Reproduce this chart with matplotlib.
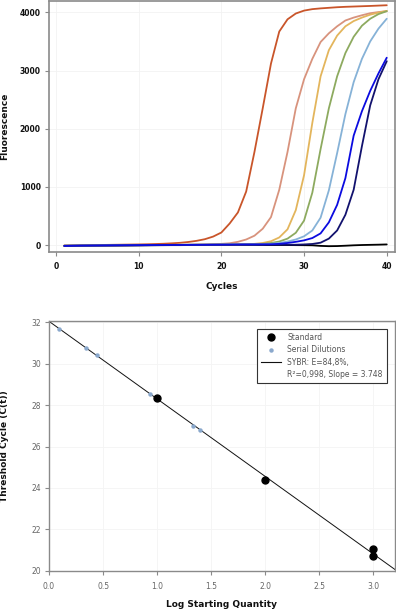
import matplotlib
matplotlib.use("Agg")
import matplotlib.pyplot as plt
from matplotlib.lines import Line2D
import numpy as np

# ---------------- data: amplification curves ----------------
cycles = list(range(1, 41))

orange = [-8, -6, -4, -2, 0, 2, 4, 6, 8, 10, 13, 17, 22, 29, 38, 52, 72, 100, 145, 215,
          370, 560, 920, 1600, 2350, 3120, 3670, 3880, 3980, 4030, 4055, 4068, 4078, 4088, 4095, 4100, 4105, 4110, 4116, 4122]
salmon = [-12, -10, -9, -8, -7, -6, -5, -4, -3, -2, -1, 0, 1, 2, 3, 5, 7, 10, 14, 20,
          30, 55, 95, 160, 280, 480, 950, 1600, 2350, 2850, 3200, 3490, 3640, 3760, 3860, 3910, 3950, 3985, 4005, 4020]
yellow = [-12, -10, -9, -8, -7, -6, -5, -4, -3, -2, -1, 0, 1, 2, 3, 4, 5, 6, 7, 8,
          10, 12, 15, 20, 35, 65, 130, 270, 600, 1200, 2100, 2900, 3350, 3600, 3760, 3850, 3910, 3960, 3995, 4025]
green = [-12, -10, -9, -8, -7, -6, -5, -4, -3, -2, -1, 0, 1, 2, 3, 4, 5, 6, 7, 8,
         9, 10, 11, 12, 20, 35, 60, 110, 210, 420, 900, 1650, 2350, 2900, 3300, 3580, 3770, 3890, 3970, 4020]
lightblue = [-12, -10, -9, -8, -7, -6, -5, -4, -3, -2, -1, 0, 1, 2, 3, 4, 5, 6, 7, 8,
             9, 10, 11, 11, 12, 20, 35, 60, 95, 150, 250, 470, 940, 1580, 2250, 2800, 3200, 3500, 3720, 3890]
blue = [-14, -12, -10, -9, -8, -7, -6, -5, -4, -3, -2, -1, 0, 1, 2, 3, 4, 5, 6, 7,
        8, 9, 10, 10, 11, 12, 20, 35, 55, 80, 120, 200, 390, 690, 1150, 1880, 2300, 2650, 2950, 3220]
navy = [-15, -13, -11, -10, -9, -8, -7, -6, -5, -4, -3, -2, -1, 0, 1, 2, 3, 3, 4, 4,
        4, 5, 5, 5, 5, 5, 5, 5, 5, 10, 18, 40, 110, 250, 520, 950, 1700, 2400, 2850, 3160]
black = [-15, -14, -13, -12, -11, -10, -9, -8, -7, -6, -5, -4, -3, -2, -2, -1, -1, 0, 0, 0,
         0, 0, 0, 0, 0, 0, 0, -1, -2, -3, -5, -15, -20, -18, -12, -5, 0, 3, 6, 10]

curve_series = [black, orange, salmon, yellow, green, lightblue, navy, blue]
curve_colors = ["#000000", "#C9552A", "#D8937D", "#E3B55C", "#8DAA5F", "#86B2D7", "#12126E", "#0B0BE0"]

# ---------------- data: standard curve ----------------
std_x = [1.0, 2.0, 3.0, 3.0]
std_y = [28.35, 24.4, 21.05, 20.7]
dil_x = [0.09, 0.34, 0.44, 0.93, 1.33, 1.40]
dil_y = [31.7, 30.75, 30.4, 28.55, 27.0, 26.8]
fit_slope = -3.748
fit_intercept = 32.05
fit_x = [0.0, 3.2]

x_ticks_top = [0, 10, 20, 30, 40]
y_ticks_top = [0, 1000, 2000, 3000, 4000]
x_ticks_bot = [0.0, 0.5, 1.0, 1.5, 2.0, 2.5, 3.0]
y_ticks_bot = [20, 22, 24, 26, 28, 30, 32]

legend_labels = ["Standard", "Serial Dilutions", "SYBR: E=84,8%,", "R\u00b2=0,998, Slope = 3.748"]

# ---------------- figure ----------------
plt.rcParams["font.family"] = ["DejaVu Sans"]
fig = plt.figure(figsize=(3.96, 6.12), dpi=100)

W, H = 396.0, 612.0
def axrect(l, t, r, b):
    return [l / W, 1 - b / H, (r - l) / W, (b - t) / H]

spine_col = "#8a8a8a"

# ---- top panel ----
ax1 = fig.add_axes(axrect(49, 1, 395, 252))
for s, c in zip(curve_series, curve_colors):
    ax1.plot(cycles, s, color=c, lw=1.3, solid_capstyle="round")
ax1.set_xlim(-0.85, 41.0)
ax1.set_ylim(-120, 4195)
ax1.set_xticks(x_ticks_top)
ax1.set_yticks(y_ticks_top)
ax1.tick_params(direction="out", length=3, width=0.8, color=spine_col,
                labelsize=5.5, labelcolor="#111111", pad=3)
ax1.tick_params(axis="x", pad=4)
for lab in ax1.get_xticklabels() + ax1.get_yticklabels():
    lab.set_fontweight("semibold")
for sp in ax1.spines.values():
    sp.set_color(spine_col)
    sp.set_linewidth(1.2)
ax1.grid(True, color="#f2f2f2", lw=0.6)
ax1.set_axisbelow(True)
ax1.set_xlabel("Cycles", fontsize=6.5, fontweight="bold", color="#111111")
ax1.set_ylabel("Fluorescence", fontsize=6.5, fontweight="bold", color="#111111")
ax1.xaxis.set_label_coords(0.5, -0.12)
ax1.yaxis.set_label_coords(-0.116, 0.5)

# ---- bottom panel ----
ax2 = fig.add_axes(axrect(49, 320.7, 395, 570.7))
fx = np.array(fit_x)
ax2.plot(fx, fit_intercept + fit_slope * fx, color="#111111", lw=0.7, zorder=2)
ax2.plot(std_x, std_y, "o", color="black", ms=5, zorder=4)
ax2.plot(dil_x, dil_y, "o", color="#8AA8CC", ms=2.2, zorder=3)
ax2.set_xlim(0, 3.2)
ax2.set_ylim(20, 32.08)
ax2.set_xticks(x_ticks_bot)
ax2.set_xticklabels([f"{v:.1f}" for v in x_ticks_bot])
ax2.set_yticks(y_ticks_bot)
ax2.tick_params(direction="out", length=3, width=0.8, color=spine_col,
                labelsize=5.5, labelcolor="#666666", pad=3)
ax2.tick_params(axis="x", pad=5)
for sp in ax2.spines.values():
    sp.set_color(spine_col)
    sp.set_linewidth(1.0)
ax2.grid(True, color="#f4f4f4", lw=0.6)
ax2.set_axisbelow(True)
ax2.set_xlabel("Log Starting Quantity", fontsize=6.5, fontweight="bold", color="#111111")
ax2.set_ylabel("Threshold Cycle (C(t))", fontsize=6.5, fontweight="bold", color="#111111")
ax2.xaxis.set_label_coords(0.5, -0.118)
ax2.yaxis.set_label_coords(-0.116, 0.5)

handles = [
    Line2D([], [], ls="none", marker="o", color="black", ms=5),
    Line2D([], [], ls="none", marker="o", color="#8AA8CC", ms=2.2),
    Line2D([], [], color="#111111", lw=0.8),
    Line2D([], [], ls="none", marker=None, color="none"),
]
leg = ax2.legend(handles, legend_labels, loc="upper right", bbox_to_anchor=(0.977, 0.968),
                 fontsize=5.5, frameon=True, fancybox=False, framealpha=1,
                 edgecolor="#333333", handlelength=2.6, handletextpad=0.8,
                 labelspacing=0.45, borderpad=0.55, borderaxespad=0)
leg.get_frame().set_linewidth(0.8)
for t in leg.get_texts():
    t.set_color("#555555")

fig.savefig("out.png", dpi=100)
